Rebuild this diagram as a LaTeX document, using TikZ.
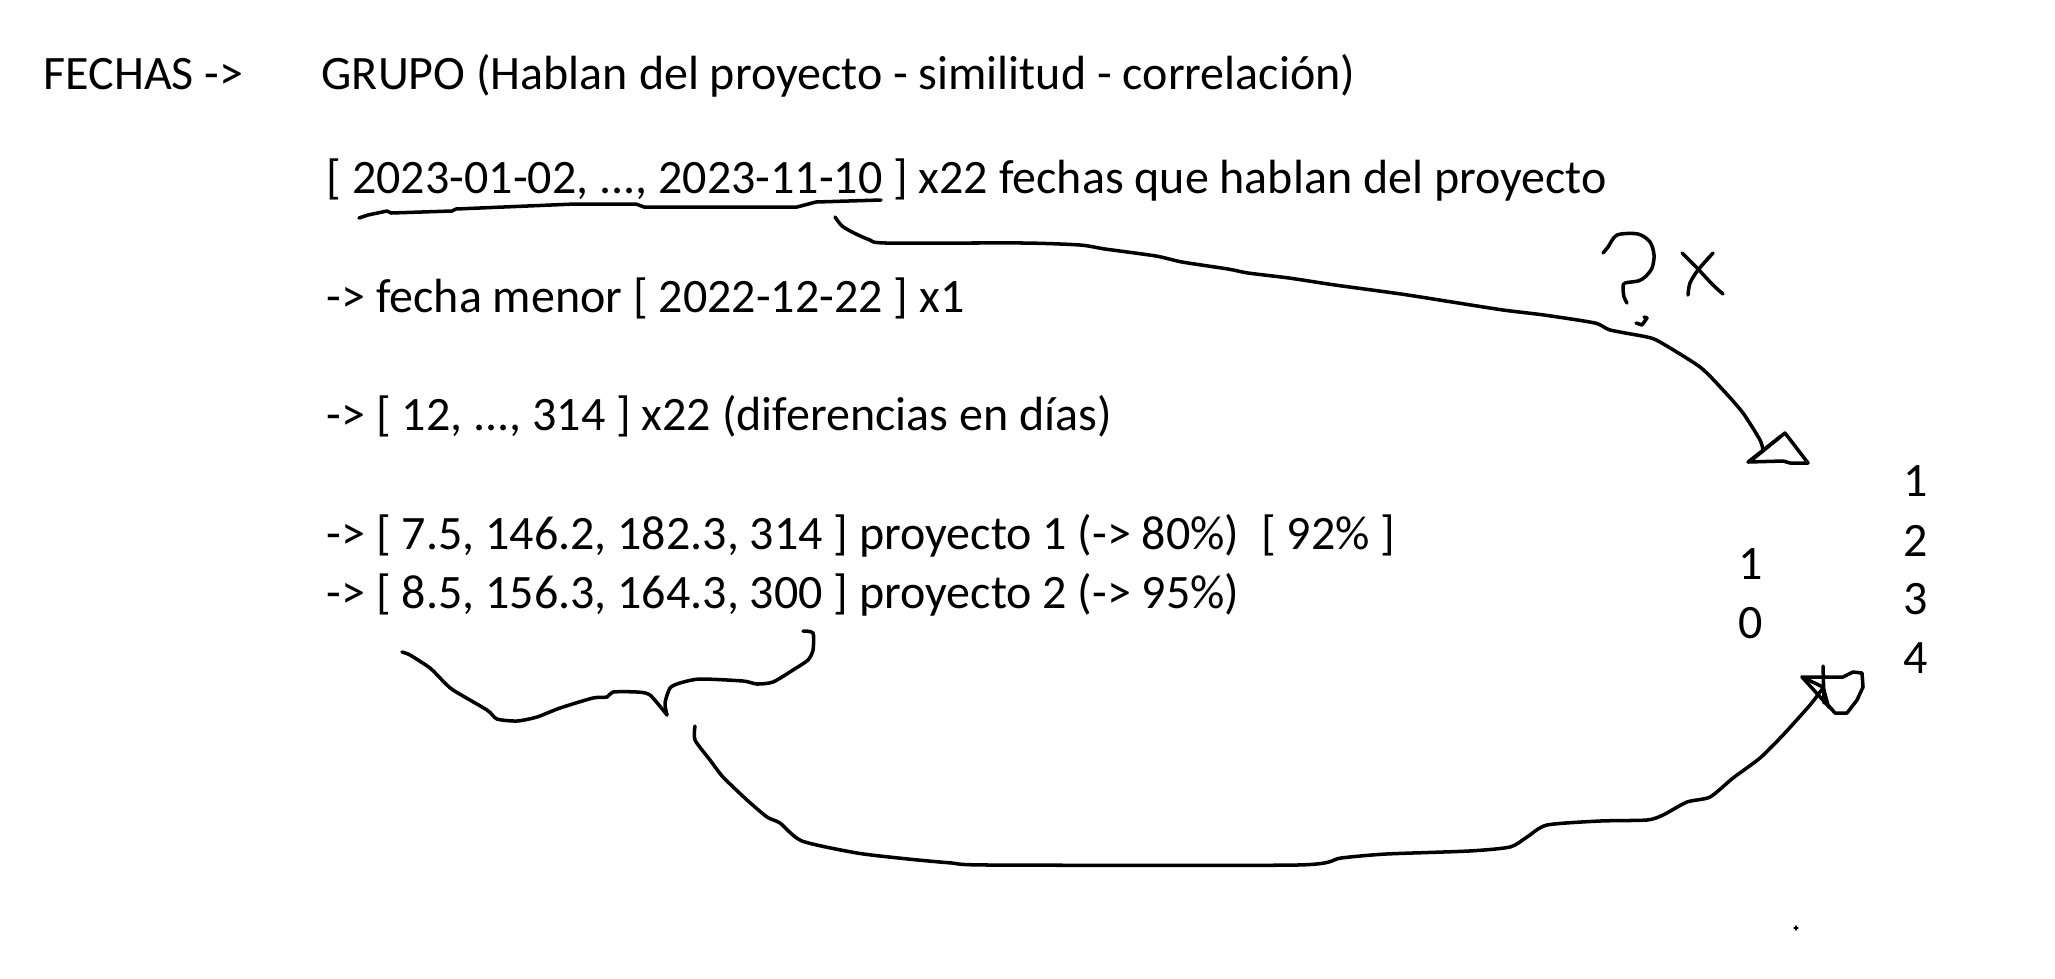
\documentclass[tikz,border=0pt]{standalone}
\usepackage{fontspec}
\setmainfont{Carlito}

\begin{document}
\begin{tikzpicture}[x=0.01cm, y=-0.01cm, font=\fontsize{13.65}{16}\selectfont, line cap=round, line join=round,
    txt/.style={anchor=base west, inner sep=0pt},
    num/.style={anchor=base, inner sep=0pt},
    pen/.style={line width=1pt}]
  \useasboundingbox (0,0) rectangle (2055,978);
  % text lines
  \node[txt] (fechas) at (43,89) {FECHAS ->};
  \node[txt] (grupo) at (321,89) {GRUPO (Hablan del proyecto - similitud - correlación)};
  \node[txt] (lista) at (326,193) {[ 2023-01-02, ..., 2023-11-10 ] x22 fechas que hablan del proyecto};
  \node[txt] (menor) at (326,312) {-> fecha menor [ 2022-12-22 ] x1};
  \node[txt] (difs) at (326,430) {-> [ 12, ..., 314 ] x22 (diferencias en días)};
  \node[txt] (proy1) at (326,549) {-> [ 7.5, 146.2, 182.3, 314 ] proyecto 1 (-> 80\%) \ [ 92\% ]};
  \node[txt] (proy2) at (326,608) {-> [ 8.5, 156.3, 164.3, 300 ] proyecto 2 (-> 95\%)};
  % scale on the right
  \node[num] (bin1) at (1751,579) {1};
  \node[num] (bin0) at (1751,638) {0};
  \node[num] (esc1) at (1916,496) {1};
  \node[num] (esc2) at (1916,556) {2};
  \node[num] (esc3) at (1916,614) {3};
  \node[num] (esc4) at (1916,673) {4};
  % ends of the hand drawn arrows
  \coordinate (fin) at (835,217);
  \coordinate (punta) at (1763,450);
  \coordinate (llave) at (695,726);
  \coordinate (estrella) at (1823,688);
  % underline of the dates
  \draw[pen] plot coordinates {(359,218) (368,215) (387,211) (391,213) (452,211) (456,209) (575,204)
    (636,204) (644,207) (797,207) (816,202) (881,200)};
  % arrow: last date -> 1/0
  \draw[pen] plot[smooth, tension=0.4] coordinates {(fin) (842,226) (854,233) (870,240) (886,243) (1023,243)
    (1080,245) (1105,249) (1156,256) (1182,262) (1228,269) (1248,273) (1289,278) (1335,285) (1401,294)
    (1452,302) (1503,310) (1544,315) (1595,323) (1610,330) (1647,337) (1660,342) (1700,367) (1723,390)
    (1743,413) (1760,440) (punta)};
  \draw[pen] (1748,462) -- (1785,433) -- (1808,463) -- (1790,463) -- (1783,461) -- cycle;
  \draw[pen] (1753,459) -- (1780,437);
  % question mark and cross
  \draw[pen] plot[smooth, tension=0.5] coordinates {(1603,253) (1608,247) (1617,235) (1638,234) (1650,242)
    (1654,255) (1652,268) (1645,277) (1638,281) (1625,283) (1623,287) (1624,297) (1627,303)};
  \draw[pen] (1636,323) -- (1642,325) -- (1647,318) -- (1644,317);
  \draw[pen] plot[smooth] coordinates {(1682,253) (1697,268) (1713,285) (1723,294)};
  \draw[pen] plot[smooth] coordinates {(1713,253) (1698,270) (1690,283) (1688,295)};
  % brace under the two projects
  \draw[pen] plot[smooth, tension=0.4] coordinates {(402,652) (410,655) (430,668) (442,680) (453,690)
    (487,710) (497,719) (517,721) (537,717) (560,708) (593,698) (607,697) (613,692) (637,692) (650,695)
    (667,715)};
  \draw[pen] plot[smooth, tension=0.4] coordinates {(667,715) (665,703) (670,688) (680,683) (700,679)
    (743,681) (757,684) (773,682) (793,670) (808,660) (813,650) (813,633) (803,631)};
  % arrow: brace -> 4
  \draw[pen] plot[smooth, tension=0.4] coordinates {(llave) (695,740) (710,760) (723,777) (747,800)
    (767,817) (780,823) (802,841) (857,853) (908,859) (952,863) (990,865) (1297,865) (1341,858) (1386,854)
    (1469,851) (1510,847) (1527,837) (1547,825) (1600,821) (1647,820) (1663,815) (1687,802) (1710,797)
    (1733,778) (1760,758) (1783,735) (1810,705) (estrella)};
  \draw[pen] (1823,666) -- (1824,703);
  \draw[pen] (1802,677) -- (1843,677) -- (1853,672) -- (1862,673) -- (1863,687) -- (1857,700) -- (1847,713)
    -- (1835,713) -- (1828,705) -- (1823,687) -- cycle;
  \draw[pen] (1802,677) -- (1830,708);
  % stray dot
  \draw[line width=0.4pt] (1794,928) -- (1798,928) (1796,926) -- (1796,930);
\end{tikzpicture}
\end{document}
